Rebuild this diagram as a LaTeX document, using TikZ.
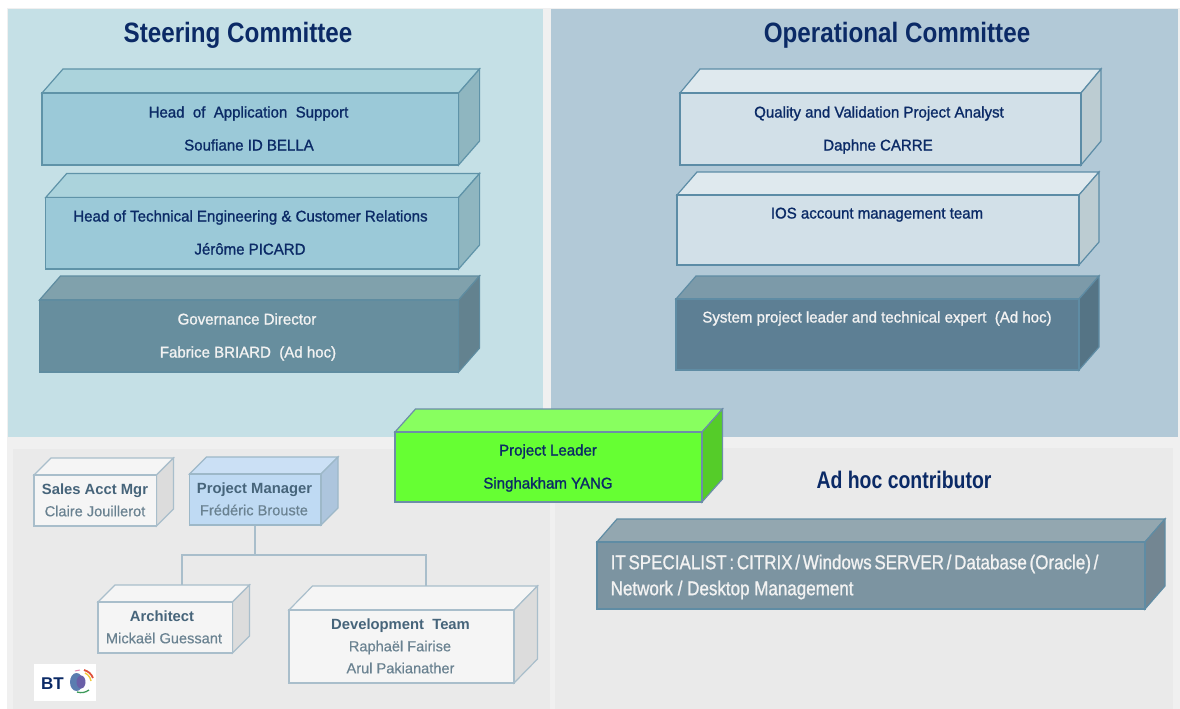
\documentclass[tikz,border=0pt]{standalone}
\usepackage{fontspec}
\setmainfont{Liberation Sans}
\newfontfamily\headf[FakeStretch=0.865,BoldFont={Liberation Sans Bold}]{Liberation Sans}
\newfontfamily\bodyf[FakeBold=1.2,FakeStretch=0.97]{Liberation Sans}
\newfontfamily\plainf[FakeBold=0.4]{Liberation Sans}
\newfontfamily\roleb{Liberation Sans Bold}
\newfontfamily\btf{Liberation Sans Bold}
\newfontfamily\itf[FakeStretch=0.85,FakeBold=1.0]{Liberation Sans}
\newfontfamily\adhocf[FakeStretch=0.81,BoldFont={Liberation Sans Bold}]{Liberation Sans}
\definecolor{frameC}{HTML}{F0F0F0}
\definecolor{innerC}{HTML}{EAEAEA}
\definecolor{steerC}{HTML}{C5E0E6}
\definecolor{operC}{HTML}{B2C9D7}
\definecolor{navyC}{HTML}{0B2A66}
\definecolor{whiteT}{HTML}{F2F2F2}
\definecolor{headT}{HTML}{46647A}
\definecolor{nameT}{HTML}{6A8291}
\definecolor{tealF}{HTML}{9BC9D8}\definecolor{tealT}{HTML}{ABD3DC}\definecolor{tealS}{HTML}{8FB6C0}\definecolor{tealL}{HTML}{5F93A8}
\definecolor{dtealF}{HTML}{678E9E}\definecolor{dtealT}{HTML}{80A1AC}\definecolor{dtealS}{HTML}{63828F}\definecolor{dtealL}{HTML}{5F8CA0}
\definecolor{lopF}{HTML}{D2E0E8}\definecolor{lopT}{HTML}{DFE9EE}\definecolor{lopS}{HTML}{BCCCD2}\definecolor{lopL}{HTML}{5C8CA6}
\definecolor{dopF}{HTML}{5D7F94}\definecolor{dopT}{HTML}{7C9AA9}\definecolor{dopS}{HTML}{557485}\definecolor{dopL}{HTML}{5F8CA4}
\definecolor{grnF}{HTML}{66FF33}\definecolor{grnT}{HTML}{88FF5F}\definecolor{grnS}{HTML}{55CC29}\definecolor{grnL}{HTML}{6C8EA8}
\definecolor{itF}{HTML}{7C94A1}\definecolor{itT}{HTML}{93A7B0}\definecolor{itS}{HTML}{738692}\definecolor{itL}{HTML}{5F8CA4}
\definecolor{whF}{HTML}{F5F5F5}\definecolor{whT}{HTML}{F5F5F5}\definecolor{whS}{HTML}{DCDCDC}\definecolor{whL}{HTML}{A9BECB}
\definecolor{pmF}{HTML}{BFDAF3}\definecolor{pmT}{HTML}{CBE0F5}\definecolor{pmS}{HTML}{ADC5DD}\definecolor{pmL}{HTML}{9DB8C8}
\definecolor{logoBlue}{HTML}{5B7DB0}\definecolor{logoViolet}{HTML}{6A5FA8}\definecolor{logoRed}{HTML}{E0503A}
\definecolor{logoYellow}{HTML}{F2C83A}\definecolor{logoGreen}{HTML}{3D9A5A}\definecolor{logoPink}{HTML}{E28AB0}
% \cube{name}{x0}{x1}{yfront}{ybottom}{dx}{dy}{palette}
\newcommand{\cube}[8]{%
  \fill[#8T,draw=#8L,cuboidline] (#2,#4) -- ++(#6,-#7) -- (#3+#6,#4-#7) -- (#3,#4) -- cycle;
  \fill[#8S,draw=#8L,cuboidline] (#3,#4) -- (#3+#6,#4-#7) -- (#3+#6,#5-#7) -- (#3,#5) -- cycle;
  \node[frontface,fill=#8F,draw=#8L,minimum width={(#3-#2)*1pt},minimum height={(#5-#4)*1pt}] (#1) at ({(#2+#3)/2},{(#4+#5)/2}) {};
}
\newcommand{\tx}[5]{\node[lab,#4] (#1) at (#2,#3) {#5};}
\tikzset{
  cuboidline/.style={line width=1.2pt,line join=miter},
  frontface/.style={rectangle,inner sep=0pt,outer sep=0pt,line width=1.2pt},
  lab/.style={inner sep=0pt,anchor=center,text depth=0pt},
  bighead/.style={font={\headf\bfseries\fontsize{28}{30}\selectfont},text=navyC,text height=20pt},
  adhoc/.style={font={\adhocf\bfseries\fontsize{24}{26}\selectfont},text=navyC,text height=17pt},
  navytxt/.style={font={\bodyf\fontsize{15.5}{17}\selectfont},text=navyC,text height=11pt},
  whitetxt/.style={font={\bodyf\fontsize{15.5}{17}\selectfont},text=whiteT,text height=11pt},
  ittxt/.style={font={\itf\fontsize{20}{22}\selectfont},text=whiteT,anchor=west,text height=14.4pt},
  rolet/.style={font={\roleb\fontsize{14.8}{16}\selectfont},text=headT,text height=10.6pt},
  namet/.style={font={\plainf\fontsize{14.6}{16}\selectfont},text=nameT,text height=10.6pt},
  conn/.style={draw=whL,line width=1.3pt,line join=miter},
}
\begin{document}
\begin{tikzpicture}[x=1pt,y=-1pt]
\useasboundingbox (0,0) rectangle (1180,709);
\fill[white] (0,0) rectangle (1180,709);
\fill[frameC] (7,8) rectangle (1180,709);
\fill[steerC] (8,9) rectangle (543,437);
\fill[operC] (551,9) rectangle (1178,437);
\fill[innerC] (13,449) rectangle (550,709);
\fill[innerC] (555,448) rectangle (1173,709);

\tx{steerhead}{238}{33}{bighead}{Steering Committee}
\tx{operhead}{897}{33}{bighead}{Operational Committee}

\cube{s1}{42}{458.6}{93}{165}{21}{24}{teal}
\cube{s2}{45.7}{458.6}{197.5}{269}{21}{24}{teal}
\cube{s3}{39.5}{458.6}{300}{372}{21}{24}{dteal}
\tx{s1a}{248.5}{112}{navytxt}{Head~ of~ Application~ Support}
\tx{s1b}{249}{145}{navytxt}{Soufiane ID BELLA}
\tx{s2a}{250.5}{216}{navytxt}{Head of Technical Engineering \& Customer Relations}
\tx{s2b}{250}{249}{navytxt}{Jérôme PICARD}
\tx{s3a}{247}{319}{whitetxt}{Governance Director}
\tx{s3b}{248}{352}{whitetxt}{Fabrice BRIARD~ (Ad hoc)}

\cube{o1}{680}{1081}{93}{165}{20}{24}{lop}
\cube{o2}{677}{1079}{195}{265}{20}{23}{lop}
\cube{o3}{676}{1079}{299}{370}{20}{23}{dop}
\tx{o1a}{879}{112}{navytxt}{Quality and Validation Project Analyst}
\tx{o1b}{878}{145}{navytxt}{Daphne CARRE}
\tx{o2a}{877}{213}{navytxt}{IOS account management team}
\tx{o3a}{877}{317}{whitetxt}{System project leader and technical expert~ (Ad hoc)}

\cube{it}{597}{1145}{542}{609}{20}{23}{it}
\tx{adhochead}{904}{480}{adhoc}{Ad hoc contributor}
\tx{it1}{610.5}{562}{ittxt}{\spaceskip=2.7pt IT SPECIALIST : CITRIX / Windows SERVER / Database (Oracle) /}
\tx{it2}{610.5}{588}{ittxt}{Network / Desktop Management}

\coordinate (pmfoot) at (255,525);
\coordinate (junction) at (255,555);
\coordinate (archtop) at (182,585);
\coordinate (devtop) at (426,586);
\draw[conn] (pmfoot) -- (junction);
\draw[conn] (archtop) |- (junction) -| (devtop);

\cube{sales}{34}{156.4}{475}{526}{17}{17}{wh}
\cube{pm}{189.5}{321}{474}{525}{17}{17}{pm}
\cube{arch}{98}{232.5}{602}{653}{17}{17}{wh}
\cube{dev}{289}{514}{610}{683}{23.5}{24}{wh}
\tx{sales1}{95}{489}{rolet}{Sales Acct Mgr}
\tx{sales2}{95}{511}{namet}{Claire Jouillerot}
\tx{pm1}{254.5}{488}{rolet}{Project Manager}
\tx{pm2}{254}{510}{namet}{Frédéric Brouste}
\tx{arch1}{162}{616}{rolet}{Architect}
\tx{arch2}{164}{638}{namet}{Mickaël Guessant}
\tx{dev1}{400.5}{624.5}{rolet}{Development~ Team}
\tx{dev2}{400}{646}{namet}{Raphaël Fairise}
\tx{dev3}{400.5}{668}{namet}{Arul Pakianather}

\cube{leader}{395}{702}{432}{502}{20.5}{23}{grn}
\tx{leadera}{548}{450}{navytxt}{Project Leader}
\tx{leaderb}{548}{483}{navytxt}{Singhakham YANG}

% BT logo
\fill[white] (34,664) rectangle (96,701);
\node[lab,font={\btf\fontsize{17}{18}\selectfont},text=navyC,text height=12pt] (btword) at (52.5,683) {BT};
\fill[logoBlue] (76.5,682) ellipse (6.5 and 9);
\fill[logoViolet] (81,682) ellipse (4.5 and 6.5);
\draw[logoRed,line width=1.8pt] (84,670) to[bend left=25] (93,678);
\draw[logoYellow,line width=1.4pt] (85,673) to[bend left=25] (91,681);
\draw[logoGreen,line width=1.3pt] (77,692) to[bend right=25] (89,690);
\draw[logoPink,line width=1pt] (75,671) -- (80,670);
\end{tikzpicture}
\end{document}
